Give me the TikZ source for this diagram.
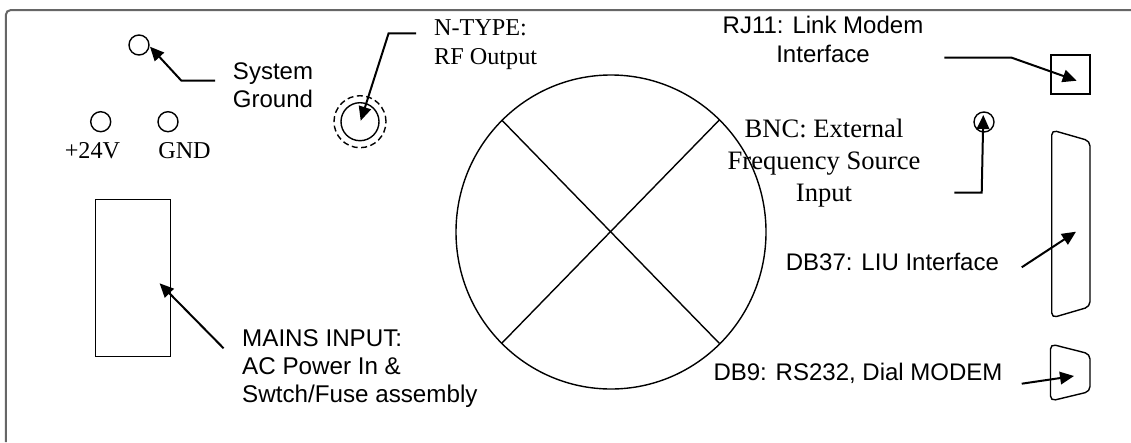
\documentclass[tikz,border=0pt]{standalone}
\usepackage{fontspec}
\setmainfont{Liberation Serif}
\setsansfont{Liberation Sans}
\usetikzlibrary{arrows.meta,shapes.geometric}
\tikzset{
  shapeline/.style={draw=black,line width=1.4pt},
  port/.style={circle,shapeline,inner sep=0pt,minimum size=#1},
  leader/.style={draw=black,line width=2pt},
  pointer/.style={leader,-{Triangle[length=14pt,width=12.5pt]}},
  sanslabel/.style={font=\sffamily\fontsize{24}{29.5}\selectfont,inner sep=0pt,text=black},
  seriflabel/.style={font=\rmfamily\fontsize{24.2}{29}\selectfont,inner sep=0pt,text=black},
  bnclabel/.style={font=\rmfamily\fontsize{26.6}{32}\selectfont,inner sep=0pt,text=black},
}
\begin{document}
\begin{tikzpicture}[x=1pt,y=-1pt]
\useasboundingbox (0,0) rectangle (1131,442);
\fill[white] (0,0) rectangle (1131,442);
% panel outline
\draw[draw=black!60,line width=2pt,rounded corners=5pt] (5.8,442) -- (5.8,10) -- (1131,10);
% big circle
\node[ellipse,shapeline,inner sep=0pt,minimum width=310pt,minimum height=314pt] (disc) at (611,232) {};
\coordinate (dtl) at (501.7,120);
\coordinate (dtr) at (719.3,120);
\coordinate (dbl) at (501.7,343.3);
\coordinate (dbr) at (719.3,343.3);
\draw[shapeline] (dtl) -- (dbr);
\draw[shapeline] (dtr) -- (dbl);
% ports
\node[port=20pt] (sysgnd) at (139,45) {};
\node[port=20pt] (p24) at (100.7,121.7) {};
\node[port=20pt] (gnd) at (168,121.7) {};
\node[port=38pt] (ntype) at (360,121.7) {};
\node[port=52pt,dashed,dash pattern=on 6pt off 3.5pt] (ntypeouter) at (360,121.7) {};
\node[port=20pt] (bnc) at (984,122) {};
\node[rectangle,shapeline,line width=1.1pt,inner sep=0pt,minimum width=75.3pt,minimum height=156.7pt] (mains) at (133,277.7) {};
\node[rectangle,shapeline,line width=1.7pt,inner sep=0pt,minimum width=39pt,minimum height=39.3pt] (rj11) at (1070.5,74.3) {};
\coordinate (a1) at (1051.7,130);
\coordinate (a2) at (1090,141);
\coordinate (a3) at (1090,306.7);
\coordinate (a4) at (1051.7,317.9);
\draw[shapeline,rounded corners=5pt] (a1) -- (a2) -- (a3) -- (a4) -- cycle;
\coordinate (b1) at (1050.5,344);
\coordinate (b2) at (1090,354);
\coordinate (b3) at (1090,391.5);
\coordinate (b4) at (1050.5,401);
\draw[shapeline,rounded corners=5pt] (b1) -- (b2) -- (b3) -- (b4) -- cycle;
% labels
\node[sanslabel,font=\sffamily\fontsize{24}{27.5}\selectfont,align=center,anchor=base] (lsys) at (273,107.3) {System\\Ground};
\node[seriflabel,anchor=base] (l24) at (92.5,158.3) {+24V};
\node[seriflabel,anchor=base] (lgnd) at (184.5,158.3) {GND};
\node[seriflabel,align=left,anchor=base west] (lnt) at (434,64) {N-TYPE:\\RF Output};
\node[sanslabel,align=center,anchor=base] (lrj) at (823,62.7) {RJ11: Link Modem\\Interface};
\node[bnclabel,align=center,anchor=base] (lbnc) at (824,201) {BNC: External\\Frequency Source\\Input};
\node[sanslabel,anchor=base west] (ldb37) at (785.7,270) {DB37: LIU Interface};
\node[sanslabel,anchor=base west] (ldb9) at (713.3,380) {DB9: RS232, Dial MODEM};
\node[sanslabel,font=\sffamily\fontsize{24.2}{28}\selectfont,align=left,anchor=base west] (lmains) at (242,402.7) {MAINS INPUT:\\AC Power In \&\\Swtch/Fuse assembly};
% connector ends
\coordinate (s0) at (215,80.7);
\coordinate (s1) at (181.4,80.7);
\coordinate (sT) at (150,46.7);
\coordinate (n0) at (416,33.3);
\coordinate (n1) at (388.6,33.3);
\coordinate (nT) at (360.7,120.7);
\coordinate (m0) at (223.6,348.3);
\coordinate (mT) at (159.6,283.3);
\coordinate (r0) at (944.3,57.7);
\coordinate (r1) at (1011.7,57.7);
\coordinate (rT) at (1076.7,80.7);
\coordinate (c0) at (954.3,192.7);
\coordinate (c1) at (981.7,192.7);
\coordinate (cT) at (983.3,115);
\coordinate (d0) at (1021.7,267.3);
\coordinate (dT) at (1076,231.7);
\coordinate (e0) at (1021.7,383.7);
\coordinate (eT) at (1074,376);
\draw[pointer] (s0) -- (s1) -- (sT);
\draw[pointer] (n0) -- (n1) -- (nT);
\draw[pointer] (m0) -- (mT);
\draw[pointer] (r0) -- (r1) -- (rT);
\draw[pointer] (c0) -- (c1) -- (cT);
\draw[pointer] (d0) -- (dT);
\draw[pointer] (e0) -- (eT);
\end{tikzpicture}
\end{document}
